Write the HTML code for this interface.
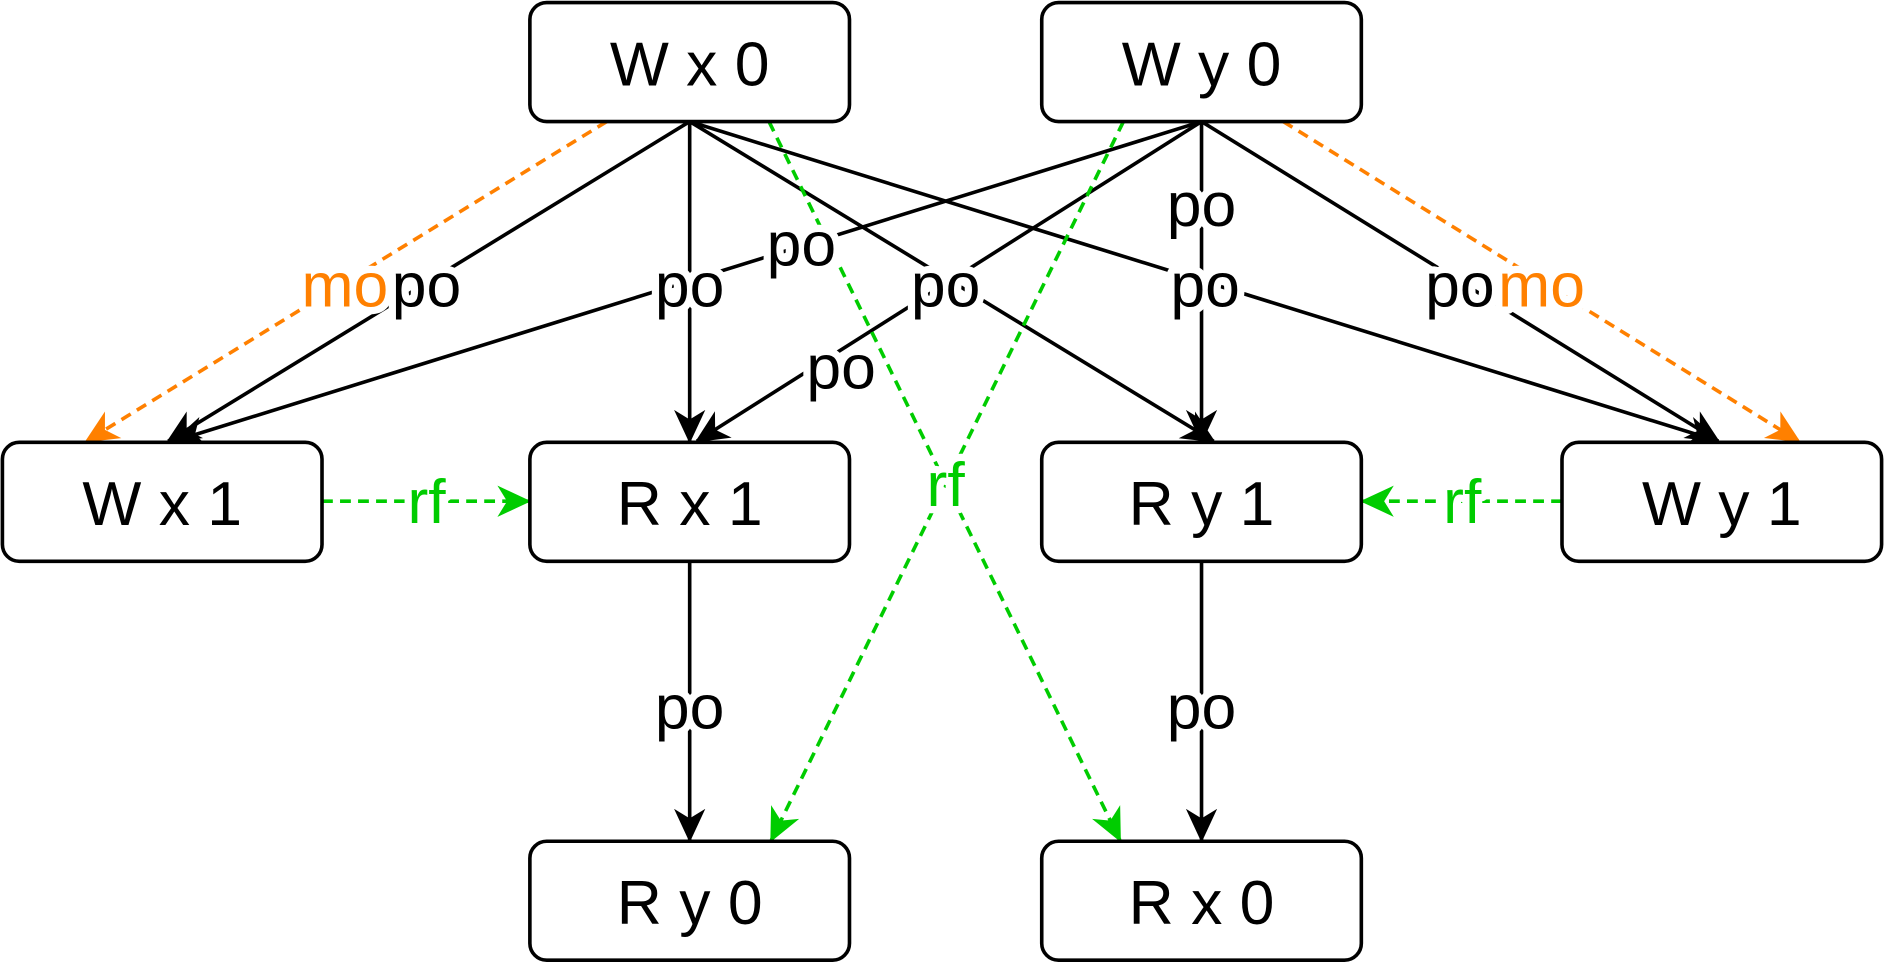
<!DOCTYPE html>
<html><head><meta charset="utf-8">
<style>
html,body{margin:0;padding:0;background:#fff;}
svg{display:block;}
text{font-family:"Liberation Sans",sans-serif;}
</style></head>
<body>
<svg id="g" width="1884" height="964" viewBox="0 0 1568 802" xmlns="http://www.w3.org/2000/svg">
<defs>
<marker id="ab" markerWidth="28" markerHeight="28" refX="26" refY="14" orient="auto" markerUnits="userSpaceOnUse" viewBox="0 0 28 28"><path d="M0,1 L28,14 L0,27 L8,14 Z" fill="#000"/></marker>
<marker id="ao" markerWidth="28" markerHeight="28" refX="26" refY="14" orient="auto" markerUnits="userSpaceOnUse" viewBox="0 0 28 28"><path d="M0,1 L28,14 L0,27 L8,14 Z" fill="#ff8000"/></marker>
<marker id="ag" markerWidth="28" markerHeight="28" refX="26" refY="14" orient="auto" markerUnits="userSpaceOnUse" viewBox="0 0 28 28"><path d="M0,1 L28,14 L0,27 L8,14 Z" fill="#00cc00"/></marker>
</defs>
<g id="edges"></g><g id="labels"></g><g id="nodes"></g>
</svg>
<script>
const nodeNames = ["W x 0","W y 0","W x 1","R x 1","R y 1","W y 1","R y 0","R x 0"];
const nodeX = [441,867,2,441,867,1300,441,867];
const nodeY = [2,2,368,368,368,368,700,700];
// edges: [x1,y1,x2,y2,label,labelX,labelY,kind]
const edgeList = [
 [505,101,72,367,"mo",287,237,"mo"],
 [1068,101,1497,367,"mo",1283,237,"mo"],
 [574,101,140,367,"po",355,237,"po"],
 [574,101,574,367,"po",574,237,"po"],
 [574,101,1010,367,"po",787,237,"po"],
 [574,101,1430,367,"po",1003,237,"po"],
 [1000,101,145,367,"po",667,203,"po"],
 [1000,101,580,367,"po",700,305,"po"],
 [1000,101,1000,367,"po",1000,170,"po"],
 [1000,101,1430,367,"po",1215,237,"po"],
 [574,467,574,699,"po",574,588,"po"],
 [1000,467,1000,699,"po",1000,588,"po"],
 [268,417,440,417,"rf",355,417,"rf"],
 [1300,417,1134,417,"rf",1217,417,"rf"],
 [640,101,932,699,"",0,0,"rf"],
 [935,101,642,699,"rf",787,403,"rf"]
];
const NS="http://www.w3.org/2000/svg";
const E=document.getElementById("edges"),L=document.getElementById("labels"),N=document.getElementById("nodes");
const col={po:"#000",mo:"#ff8000",rf:"#00cc00"}, mk={po:"ab",mo:"ao",rf:"ag"};
edgeList.forEach(e=>{
 const l=document.createElementNS(NS,"line");
 l.setAttribute("x1",e[0]);l.setAttribute("y1",e[1]);l.setAttribute("x2",e[2]);l.setAttribute("y2",e[3]);
 l.setAttribute("stroke",col[e[7]]);l.setAttribute("stroke-width","3");
 if(e[7]!=="po")l.setAttribute("stroke-dasharray","9 6");
 l.setAttribute("marker-end","url(#"+mk[e[7]]+")");
 
 
 E.appendChild(l);
 if(e[4]){
  const t=document.createElementNS(NS,"text");
  t.setAttribute("x",e[5]);t.setAttribute("y",e[6]+18);t.setAttribute("text-anchor","middle");
  t.setAttribute("font-size","52");t.setAttribute("fill",col[e[7]]);
  t.setAttribute("stroke","#fff");t.setAttribute("stroke-width","12");t.setAttribute("stroke-linejoin","round");t.setAttribute("paint-order","stroke");
  t.textContent=e[4];
  
  
  L.appendChild(t);
 }
});
nodeNames.forEach((n,i)=>{
 const g=document.createElementNS(NS,"g");
 
 
 const r=document.createElementNS(NS,"rect");
 r.setAttribute("x",nodeX[i]);r.setAttribute("y",nodeY[i]);r.setAttribute("width",266);r.setAttribute("height",99);
 r.setAttribute("rx",14);r.setAttribute("fill","#fff");r.setAttribute("stroke","#000");r.setAttribute("stroke-width","3");
 const t=document.createElementNS(NS,"text");
 t.setAttribute("x",nodeX[i]+133);t.setAttribute("y",nodeY[i]+69);t.setAttribute("text-anchor","middle");
 t.setAttribute("font-size","52");t.setAttribute("fill","#000");t.textContent=n;
 g.appendChild(r);g.appendChild(t);N.appendChild(g);
});
</script>
</body></html>
